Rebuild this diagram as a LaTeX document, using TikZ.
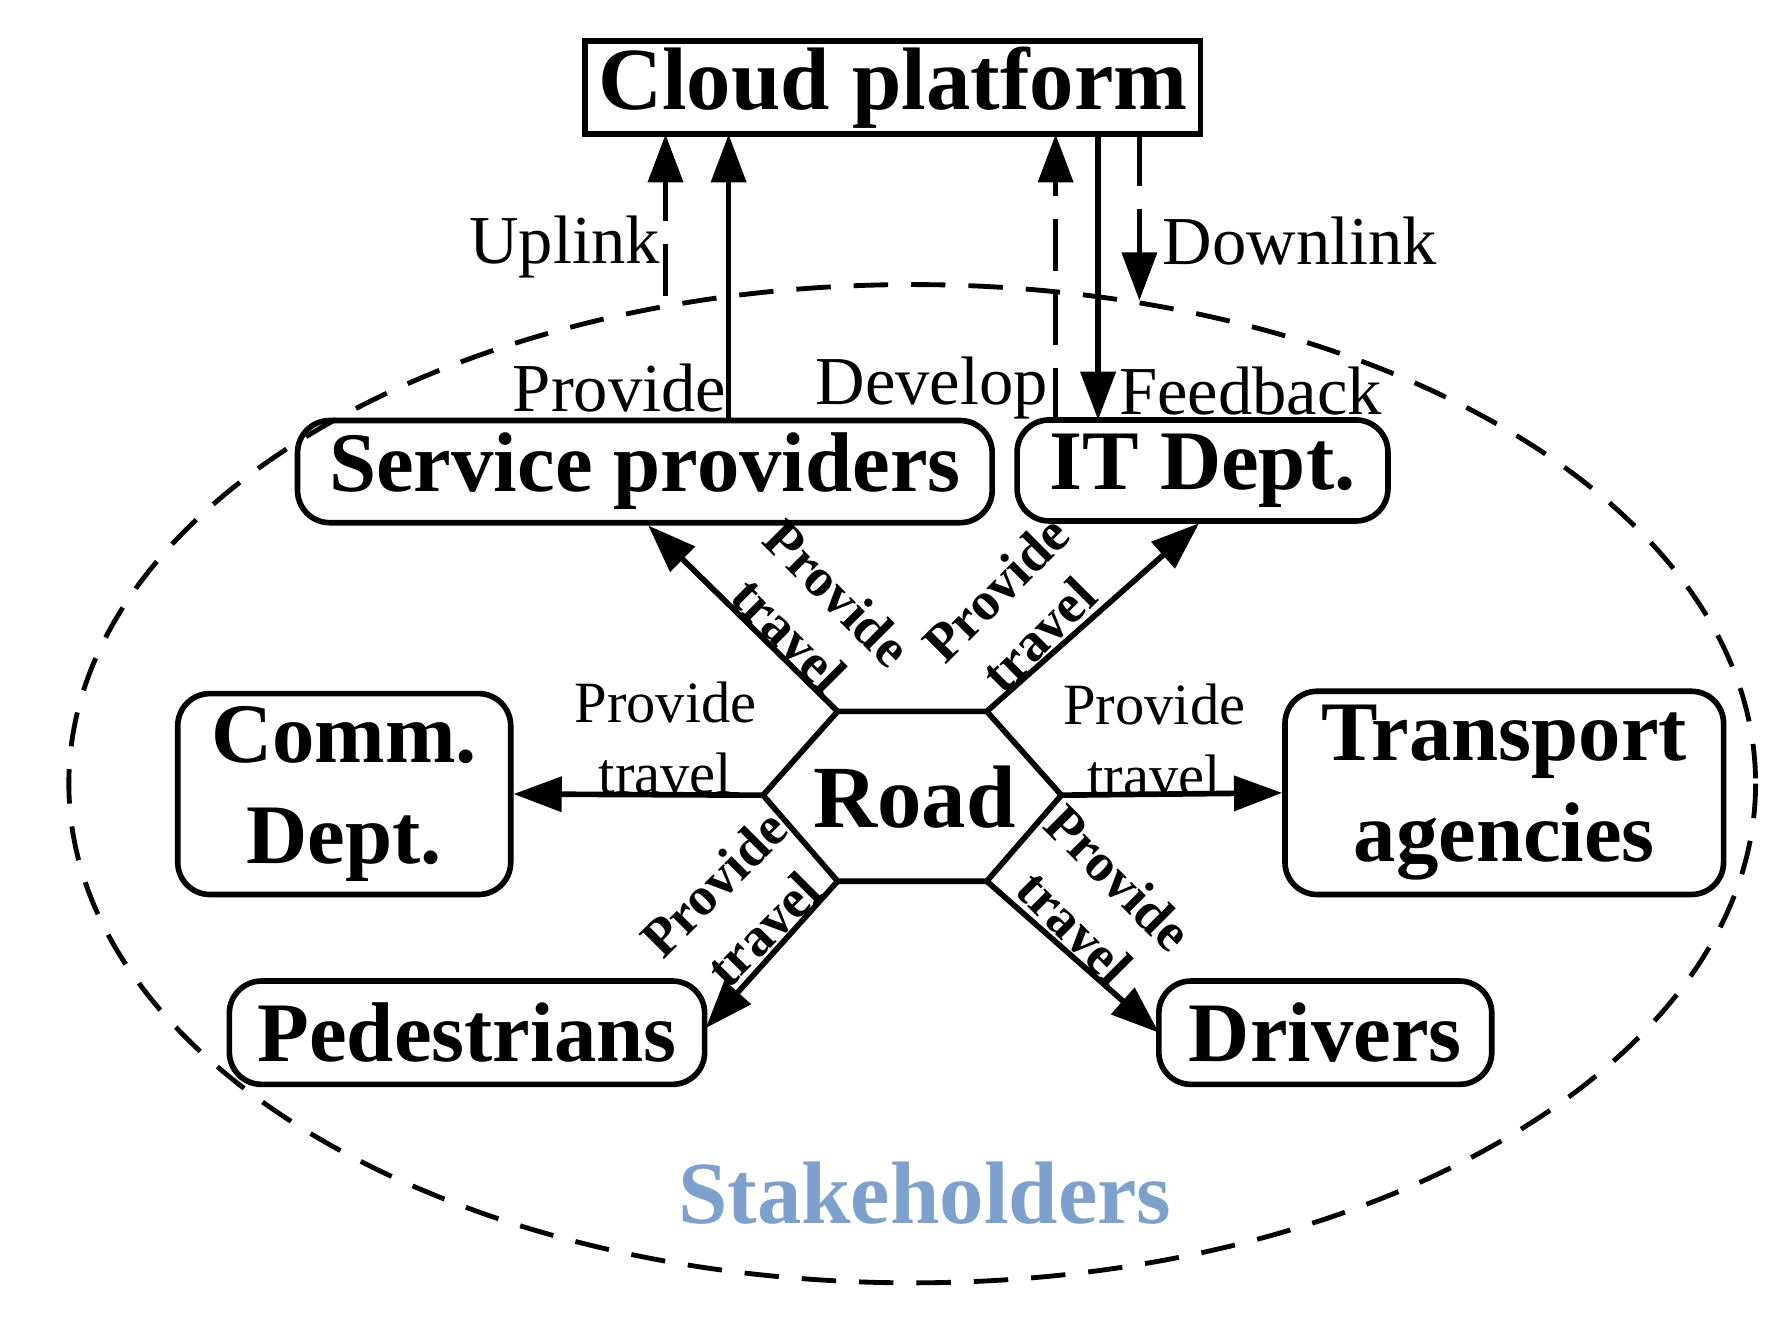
\documentclass[tikz,border=0pt]{standalone}
\usepackage{fontspec}
\setmainfont{Liberation Serif}
\usetikzlibrary{arrows.meta}
\definecolor{stk}{RGB}{125,160,205}
\begin{document}
\begin{tikzpicture}[x=0.01cm,y=-0.01cm,line width=1.4pt,
  box/.style={draw,rounded corners=0.28cm,font=\fontsize{21}{25}\selectfont\bfseries,align=center,inner sep=0},
  arr/.style={-{Triangle[length=0.42cm,width=0.3cm]}},
  lab/.style={font=\fontsize{17}{18}\selectfont},
  sl/.style={font=\fontsize{14.5}{17.5}\selectfont,align=center},
  rl/.style={font=\fontsize{13.5}{14}\selectfont\bfseries,inner sep=0}]
\useasboundingbox (0,0) rectangle (1560,1148);
\node[draw,minimum width=5.36cm,minimum height=0.81cm,font=\fontsize{22}{22}\selectfont\bfseries,inner sep=0] (cloud) at (778,76) {Cloud platform};
\draw[dashed,line width=1.2pt,dash pattern=on 0.3cm off 0.2cm] (795,683) ellipse [x radius=735,y radius=435];
\node[box,minimum width=6.05cm,minimum height=0.89cm] (sp) at (562,411) {Service providers};
\node[box,minimum width=3.23cm,minimum height=0.88cm] (it) at (1048,410) {IT Dept.};
\node[box,minimum width=2.9cm,minimum height=1.75cm] (comm) at (300,692) {Comm.\\Dept.};
\node[box,minimum width=3.82cm,minimum height=1.77cm] (tr) at (1311,691) {Transport\\agencies};
\node[box,minimum width=4.14cm,minimum height=0.9cm] (ped) at (407,900) {Pedestrians};
\node[box,minimum width=2.9cm,minimum height=0.9cm] (dr) at (1155,900) {Drivers};
\coordinate (h1) at (665,693); \coordinate (h2) at (730,620); \coordinate (h3) at (860,620);
\coordinate (h4) at (925,693); \coordinate (h5) at (860,768); \coordinate (h6) at (730,768);
\draw (h1)--(h2)--(h3)--(h4)--(h5)--(h6)--cycle;
\node[font=\fontsize{22}{22}\selectfont\bfseries] (road) at (797,695) {Road};
\draw[arr] (h2) -- (565,458);
\draw[arr] (h3) -- (1045,456);
\draw[arr] (h1) -- (comm.east);
\draw[arr] (h4) -- (tr.west);
\draw[arr] (h6) -- (615,896);
\draw[arr] (h5) -- (1010,900);
\coordinate (u1) at (580,258); \coordinate (d1) at (993,262);
\draw[arr,dash pattern=on 0.45cm off 0.2cm] (u1) -- (580,117);
\draw[arr] (sp.north -| 635,0) -- (635,117);
\draw[arr,dash pattern=on 0.45cm off 0.2cm] (920,366) -- (920,117);
\draw[arr] (957,117) -- (957,366);
\draw[arr,dash pattern=on 0.45cm off 0.2cm] (993,117) -- (d1);
\node[lab] (ul) at (492,215) {Uplink};
\node[lab] (dl) at (1133,210) {Downlink};
\node[lab] (pv) at (540,338) {Provide};
\node[lab] (dv) at (812,338) {Develop};
\node[lab] (fb) at (1090,341) {Feedback};
\node[sl] (l1) at (580,643) {Provide\\travel};
\node[sl] (l2) at (1006,645) {Provide\\travel};
\node[rl,rotate=-45] (r1) at (730,517) {Provide};
\node[rl,rotate=-45] (r2) at (688,553) {travel};
\node[rl,rotate=45] (r3) at (868,513) {Provide};
\node[rl,rotate=45] (r4) at (905,553) {travel};
\node[rl,rotate=45] (r5) at (622,770) {Provide};
\node[rl,rotate=45] (r6) at (665,810) {travel};
\node[rl,rotate=-45] (r7) at (975,765) {Provide};
\node[rl,rotate=-45] (r8) at (937,808) {travel};
\node[font=\fontsize{22}{22}\selectfont\bfseries,text=stk] (st) at (806,1040) {Stakeholders};
\end{tikzpicture}
\end{document}
